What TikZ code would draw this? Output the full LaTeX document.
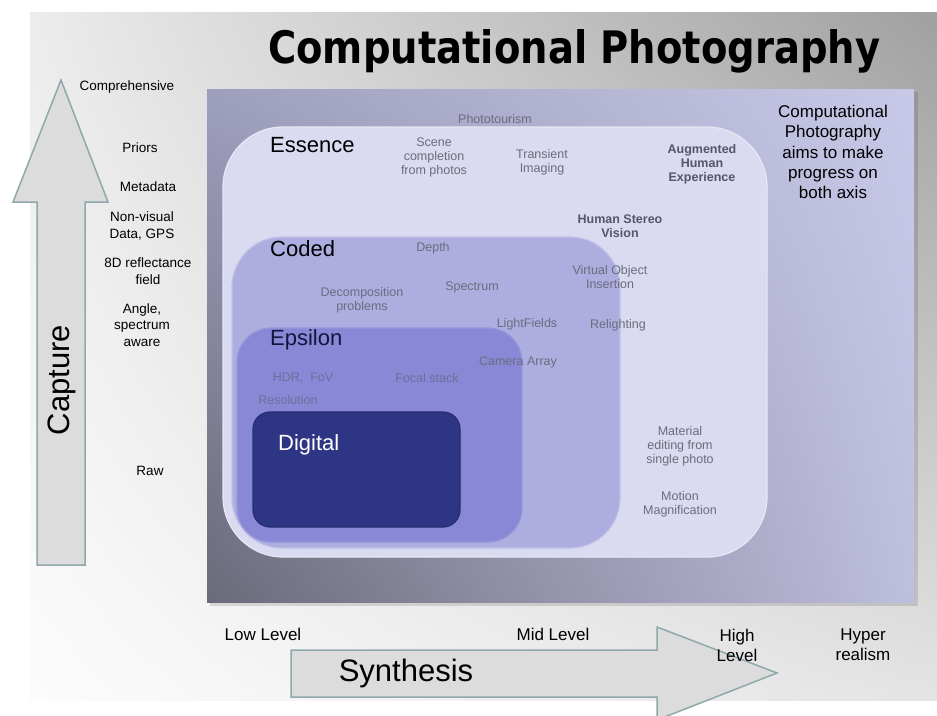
\documentclass[tikz,border=0pt]{standalone}
\usepackage{graphicx}
\usepackage{fontspec}
\setmainfont{Liberation Sans}
\newfontfamily\titlefont{DejaVu Sans}
\usetikzlibrary{shadings}

\definecolor{essfill}{HTML}{DADAF0}
\definecolor{codfill}{HTML}{ADADE0}
\definecolor{epsfill}{HTML}{8888D6}
\definecolor{digfill}{HTML}{2E3585}
\definecolor{smallgray}{HTML}{6C6C7E}
\definecolor{fadegray}{HTML}{6E6E9A}
\definecolor{boldgray}{HTML}{56566A}
\definecolor{arrowfill}{HTML}{DCDCDC}
\definecolor{arrowline}{HTML}{8FA8AC}

\begin{document}
\begin{tikzpicture}[x=1pt,y=-1pt,
  region/.style={line width=1.2pt},
  levelname/.style={anchor=west,inner sep=0,font=\fontsize{22}{26}\selectfont},
  small/.style={inner sep=0,align=center,text=smallgray,font=\fontsize{12.5}{14}\selectfont},
  faded/.style={small,text=fadegray},
  boldsmall/.style={inner sep=0,align=center,text=boldgray,font=\bfseries\fontsize{12.5}{14}\selectfont},
  axislabel/.style={inner sep=0,align=center,font=\fontsize{13.5}{16.5}\selectfont},
  levellabel/.style={inner sep=0,align=center,font=\fontsize{17}{20}\selectfont},
  axisname/.style={inner sep=0,font=\fontsize{31}{36}\selectfont},
  bigarrow/.style={fill=arrowfill,draw=arrowline,line width=1.5pt,line join=miter}
]
% page and slide background
\useasboundingbox (0,0) rectangle (937,715);
\fill[white] (0,0) rectangle (937,715);
\shade[upper left={rgb,255:red,236;green,236;blue,236},
       upper right={rgb,255:red,160;green,160;blue,160},
       lower left={rgb,255:red,252;green,252;blue,252},
       lower right={rgb,255:red,228;green,228;blue,228}]
  (30,12) rectangle (937,700);

% title
\node[anchor=base west,inner sep=0] (title) at (268,63)
  {\resizebox{612pt}{34pt}{\titlefont\bfseries Computational Photography}};

% main panel with a faint drop shadow
\fill[black,opacity=0.12] (210,92) rectangle (918,606);
\shade[upper left={rgb,255:red,158;green,158;blue,190},
       upper right={rgb,255:red,200;green,200;blue,232},
       lower left={rgb,255:red,106;green,106;blue,122},
       lower right={rgb,255:red,190;green,190;blue,222}]
  (207,89) rectangle (914,602);

% nested regions
\filldraw[region,fill=essfill,draw=white!35!essfill,rounded corners=60pt]
  (223,127) rectangle (767,557);
\filldraw[region,fill=codfill,draw=white!25!codfill,rounded corners=50pt]
  (232,237) rectangle (620,548);
\filldraw[region,fill=epsfill,draw=white!12!epsfill,rounded corners=34pt]
  (237,328) rectangle (522,542);
\filldraw[region,fill=digfill,draw=digfill!85!black,rounded corners=17pt]
  (253,412) rectangle (460,527);

% region names
\node[levelname] (essence) at (270,145) {Essence};
\node[levelname] (coded) at (270,249) {Coded};
\node[levelname,text={rgb,255:red,20;green,20;blue,60}] (epsilon) at (270,340) {Epsilon};
\node[levelname,text=white] (digital) at (278,445) {Digital};

% techniques
\node[small] (phototourism) at (495,119) {Phototourism};
\node[small] (scene) at (434,157) {Scene\\completion\\from photos};
\node[small] (transient) at (542,162) {Transient\\Imaging};
\node[boldsmall] (augmented) at (702,164) {Augmented\\Human\\Experience};
\node[boldsmall] (stereo) at (620,226) {Human Stereo\\Vision};
\node[small] (depth) at (433,248) {Depth};
\node[small] (spectrum) at (472,287) {Spectrum};
\node[small] (decomp) at (362,300) {Decomposition\\problems};
\node[small] (virtual) at (610,277) {Virtual Object\\Insertion};
\node[small] (lightfields) at (527,324) {LightFields};
\node[small] (relighting) at (618,325) {Relighting};
\node[small] (camarray) at (518,362) {Camera Array};
\node[faded] (hdr) at (303,378) {HDR,\ \ FoV};
\node[faded] (focal) at (427,378) {Focal stack};
\node[faded] (resolution) at (288,400) {Resolution};
\node[small] (material) at (680,446) {Material\\editing from\\single photo};
\node[small] (motion) at (680,504) {Motion\\Magnification};

% note on the right
\node[inner sep=0,align=center,font=\fontsize{17}{20.2}\selectfont] (note) at (833,152)
  {Computational\\Photography\\aims to make\\progress on\\both axis};

% capture axis
\draw[bigarrow] (37,565) -- (37,202) -- (13,202) -- (61,80) -- (108,202)
  -- (85,202) -- (85,565) -- cycle;
\node[axisname,rotate=90] (capture) at (62,380) {Capture};
\node[axislabel] (comprehensive) at (127,87) {Comprehensive};
\node[axislabel] (priors) at (140,148) {Priors};
\node[axislabel] (metadata) at (148,187) {Metadata};
\node[axislabel] (nonvisual) at (142,226) {Non-visual\\Data, GPS};
\node[axislabel] (reflectance) at (148,271) {8D reflectance\\field};
\node[axislabel] (angle) at (142,325) {Angle,\\spectrum\\aware};
\node[axislabel] (raw) at (150,471) {Raw};

% synthesis axis
\draw[bigarrow] (291,650) -- (657,650) -- (657,627) -- (777,673) -- (657,720)
  -- (657,697) -- (291,697) -- cycle;
\node[axisname] (synthesis) at (406,673) {Synthesis};
\node[levellabel] (low) at (263,634) {Low Level};
\node[levellabel] (mid) at (553,634) {Mid Level};
\node[levellabel] (high) at (737,645) {High\\Level};
\node[levellabel] (hyper) at (863,645) {Hyper\\realism};
\end{tikzpicture}
\end{document}
